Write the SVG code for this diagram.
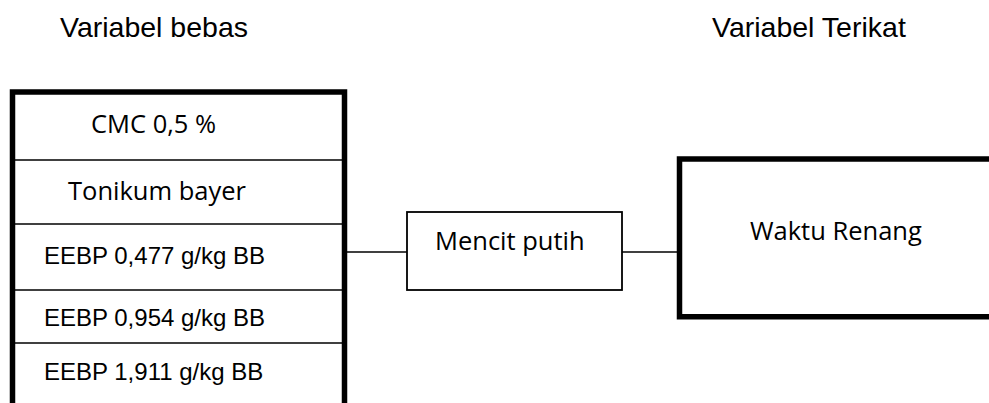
<svg xmlns="http://www.w3.org/2000/svg" width="989" height="403" viewBox="0 0 989 403">
<style>
.bg{fill:#ffffff}
.thick{fill:none;stroke:#000;stroke-width:5.5}
.thin{fill:none;stroke:#000;stroke-width:1.6}
.box{fill:#fff;stroke:#000;stroke-width:1.8}
.arial{font-family:"Liberation Sans",Arial,sans-serif;fill:#000}
.cal{font-family:"Open Sans","Noto Sans",sans-serif;fill:#000}
.hdr{font-size:28.5px}
.row{font-size:24px}
.c{font-size:25.5px}
</style>
<rect class="bg" x="0" y="0" width="989" height="403"/>
<g id="headers">
<text class="arial hdr" x="60" y="37">Variabel bebas</text>
<text class="arial hdr" x="712" y="37">Variabel Terikat</text>
</g>
<g id="connectors">
<line class="thin" x1="347" y1="252" x2="407" y2="252"/>
<line class="thin" x1="622" y1="252" x2="677" y2="252"/>
</g>
<g id="variabel-bebas">
<path class="thick" d="M12.5,406 V92 H344.5 V406"/>
<line class="thin" x1="15" y1="160" x2="342" y2="160"/>
<line class="thin" x1="15" y1="224" x2="342" y2="224"/>
<line class="thin" x1="15" y1="290" x2="342" y2="290"/>
<line class="thin" x1="15" y1="343" x2="342" y2="343"/>
<text class="cal c" x="91" y="133">CMC 0,5 %</text>
<text class="cal c" x="68" y="200">Tonikum bayer</text>
<text class="arial row" x="44" y="264">EEBP 0,477 g/kg BB</text>
<text class="arial row" x="44" y="326">EEBP 0,954 g/kg BB</text>
<text class="arial row" x="44" y="380">EEBP 1,911 g/kg BB</text>
</g>
<g id="mencit-putih">
<rect class="box" x="407" y="212" width="215" height="78"/>
<text class="cal c" x="435" y="250">Mencit putih</text>
</g>
<g id="waktu-renang">
<path class="thick" d="M995,159 H679.5 V316.7 H995"/>
<text class="cal c" x="750" y="240">Waktu Renang</text>
</g>
</svg>
